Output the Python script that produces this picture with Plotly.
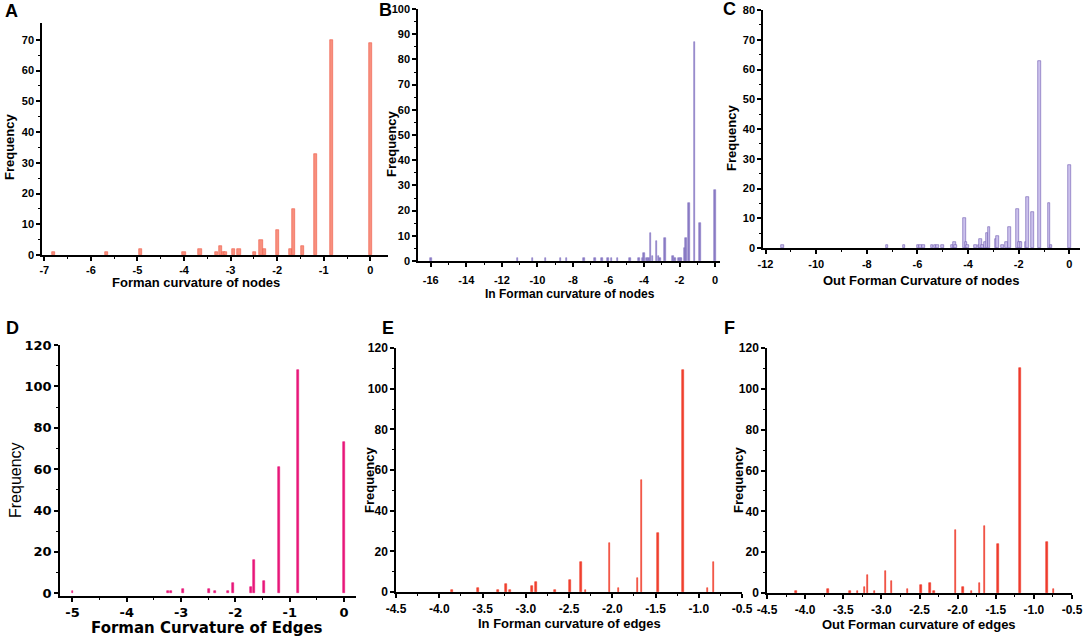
import numpy as np
import plotly.graph_objects as go

W, H = 1084, 638
FONT = "Liberation Sans, Arial, sans-serif"
NARROW = "Liberation Sans Narrow, Arial Narrow, Liberation Sans, sans-serif"
WIDE = "DejaVu Sans, Verdana, sans-serif"

# A: Forman curvature of nodes
a_x = [-6.81, -5.67, -4.94, -4.0, -3.66, -3.3, -3.21, -3.16, -3.11, -2.94, -2.82,
       -2.48, -2.35, -2.28, -2.0, -1.71, -1.65, -1.46, -1.18, -0.83, 0.0]
a_y = [1, 1, 2, 1, 2, 1, 3, 1, 1, 2, 2, 1, 5, 2, 8, 2, 15, 3, 33, 70, 69]

# B: In Forman curvature of nodes
b_x = [-16.0, -11.12, -10.27, -9.54, -8.69, -8.36, -7.38, -6.74, -6.37, -6.01, -5.82,
       -5.48, -4.79, -4.28, -4.07, -4.0, -3.83, -3.72, -3.64, -3.53, -3.29, -3.19,
       -3.10, -2.82, -2.35, -2.27, -2.03, -1.95, -1.88, -1.69, -1.63, -1.46, -1.16,
       -0.83, 0.0]
b_y = [1, 1, 1, 1, 1, 1, 1, 1, 1, 1, 1, 1, 1, 1, 1, 3, 1, 1, 11, 2, 8, 2, 1, 9, 2,
       1, 1, 1, 1, 5, 9, 23, 87, 15, 28]

# C: Out Forman curvature of nodes
c_x = [-11.34, -7.2, -6.53, -5.98, -5.89, -5.77, -5.43, -5.31, -5.2, -5.02, -4.61,
       -4.53, -4.49, -4.14, -4.09, -4.02, -3.71, -3.57, -3.51, -3.43, -3.32, -3.26,
       -3.18, -2.89, -2.84, -2.64, -2.48, -2.37, -2.04, -1.98, -1.91, -1.71, -1.66,
       -1.46, -1.17, -0.80, -0.72, 0.0]
c_y = [1, 1, 1, 1, 1, 1, 1, 1, 1, 1, 1, 2, 1, 10, 2, 1, 1, 1, 3, 1, 2, 5, 7, 3, 4,
       1, 2, 7, 13, 2, 2, 2, 17, 12, 63, 15, 1, 28]

# D: Forman curvature of edges
d_x = [-5.0, -3.24, -3.19, -2.97, -2.49, -2.38, -2.14, -2.05, -1.72, -1.66, -1.47,
       -1.19, -0.84, 0.0]
d_y = [1, 1, 1, 2, 2, 1, 1, 5, 3, 16, 6, 61, 108, 73]

# E: In Forman curvature of edges
e_x = [-3.85, -3.55, -3.32, -3.23, -3.18, -2.93, -2.88, -2.66, -2.49, -2.36, -2.31,
       -2.03, -1.93, -1.71, -1.66, -1.47, -1.18, -0.9, -0.83]
e_y = [1, 2, 1, 4, 1, 3, 5, 1, 6, 15, 1, 24, 2, 7, 55, 29, 109, 2, 15]

# F: Out Forman curvature of edges
f_x = [-4.12, -3.70, -3.41, -3.31, -3.22, -3.18, -3.09, -2.95, -2.87, -2.66, -2.48,
       -2.36, -2.31, -2.03, -1.93, -1.82, -1.71, -1.65, -1.47, -1.18, -0.83, -0.74]
f_y = [1, 2, 1, 1, 3, 9, 1, 11, 6, 2, 4, 5, 1, 31, 3, 1, 5, 33, 24, 110, 25, 2]


def px(x0, x1, y0, y1):
    # pixel box -> paper domains
    return [x0 / W, x1 / W], [1 - y1 / H, 1 - y0 / H]


def axis(dom, rng, major, minor, start, stop, size, fam=FONT, standoff=0):
    vals = np.arange(start, stop + 1e-9, major)
    mvals = np.arange(start, stop + 1e-9, minor)
    text = [("%.1f" % v if major < 1 else "%d" % round(v)) for v in vals]
    return dict(
        domain=dom, range=rng, showline=True, linecolor="black", linewidth=1.5,
        ticks="outside", ticklen=4, tickwidth=1.5, tickcolor="black",
        tickmode="array", tickvals=vals, ticktext=text, ticklabelstandoff=standoff,
        minor=dict(ticks="outside", ticklen=2.5, tickwidth=1, tickcolor="black",
                   tickmode="array", tickvals=mvals),
        showgrid=False, zeroline=False, automargin=False,
        tickfont=dict(family=fam, size=size, color="black", weight="bold"),
    )


panels = [
    # x, y, fill, outline, bar width, pixel box, x axis, y axis, font size, font, x standoff
    (a_x, a_y, "#F8907E", "#EE5A48", 0.07, (42, 388, 23, 255),
     [-7.05, 0.38], (1, 0.5, -7, 0), [0, 75.5], (10, 5, 0, 70), 11, FONT, 0),
    (b_x, b_y, "#8A7BC4", "#8A7BC4", 0.09, (418, 720, 9, 261),
     [-16.72, 0.28], (2, 1, -16, 0), [0, 100], (10, 5, 0, 100), 11, NARROW, 4),
    (c_x, c_y, "#CBC1EC", "#6F5BB0", 0.1, (763, 1080, 10, 248),
     [-12.1, 0.42], (2, 1, -12, 0), [0, 80], (10, 5, 0, 80), 11, FONT, 1),
    (d_x, d_y, "#E8187A", "#E8187A", 0.035, (60, 356, 345, 596),
     [-5.23, 0.22], (1, 0.5, -5, 0), [-1.3, 120], (20, 10, 0, 120), 13, WIDE, 0),
    (e_x, e_y, "#F0402E", "#F0402E", 0.018, (396, 742, 348, 592),
     [-4.5, -0.5], (0.5, 0.25, -4.5, -0.5), [0, 120], (20, 10, 0, 120), 12, FONT, 1),
    (f_x, f_y, "#EE3B2C", "#EE3B2C", 0.018, (767, 1072, 348, 593),
     [-4.5, -0.5], (0.5, 0.25, -4.5, -0.5), [0, 120], (20, 10, 0, 120), 12, FONT, 1),
]

fig = go.Figure()
layout = {}
for i, (xs, ys, col, lcol, bw, box, xr, xt, yr, yt, fs, fam, so) in enumerate(panels, 1):
    xd, yd = px(*box)
    sfx = "" if i == 1 else str(i)
    fig.add_trace(go.Bar(
        x=xs, y=ys, width=bw, marker=dict(color=col, line=dict(color=lcol, width=0.6)),
        xaxis="x" + sfx, yaxis="y" + sfx, showlegend=False,
    ))
    layout["xaxis" + sfx] = axis(xd, xr, *xt, fs, fam, so)
    layout["xaxis" + sfx]["anchor"] = "y" + sfx
    layout["yaxis" + sfx] = axis(yd, yr, *yt, fs, fam)
    layout["yaxis" + sfx]["anchor"] = "x" + sfx

fig.update_layout(**layout)


def note(text, x, y, size, angle=0, bold=True, fam=FONT):
    fig.add_annotation(
        text=text, x=x / W, y=1 - y / H, xref="paper", yref="paper",
        showarrow=False, textangle=angle, xanchor="center", yanchor="middle",
        font=dict(family=fam, size=size, color="black",
                  weight="bold" if bold else "normal"),
    )


# panel letters
for lab, x, y in [("A", 11, 11), ("B", 385, 10), ("C", 729, 9),
                  ("D", 12, 328), ("E", 388, 328), ("F", 729, 328)]:
    note(lab, x, y, 18)

# axis titles
note("Forman curvature of nodes", 196, 282, 13)
note("In Forman curvature of nodes", 570, 294, 12, fam=NARROW)
note("Out Forman Curvature of nodes", 921, 280, 13)
note("Forman Curvature of Edges", 207, 628, 15, fam=WIDE)
note("In Forman curvature of edges", 569, 623, 13)
note("Out Forman curvature of edges", 919, 624, 13)

note("Frequency", 9, 147, 13, angle=-90)
note("Frequency", 391, 144, 13, angle=-90)
note("Frequency", 731, 138, 13, angle=-90)
note("Frequency", 15, 480, 16, angle=-90, bold=False)
note("Frequency", 369, 480, 13, angle=-90)
note("Frequency", 738, 480, 13, angle=-90)

fig.update_layout(
    width=W, height=H, margin=dict(l=0, r=0, t=0, b=0),
    plot_bgcolor="white", paper_bgcolor="white", bargap=0,
    font=dict(family=FONT, color="black"),
)

# drop the browser's default 8px body margin so the figure fills the window
fig.write_html("out.html", config={"displayModeBar": False},
               post_script="document.body.style.margin='0';"
                           "document.body.style.overflow='hidden';")
